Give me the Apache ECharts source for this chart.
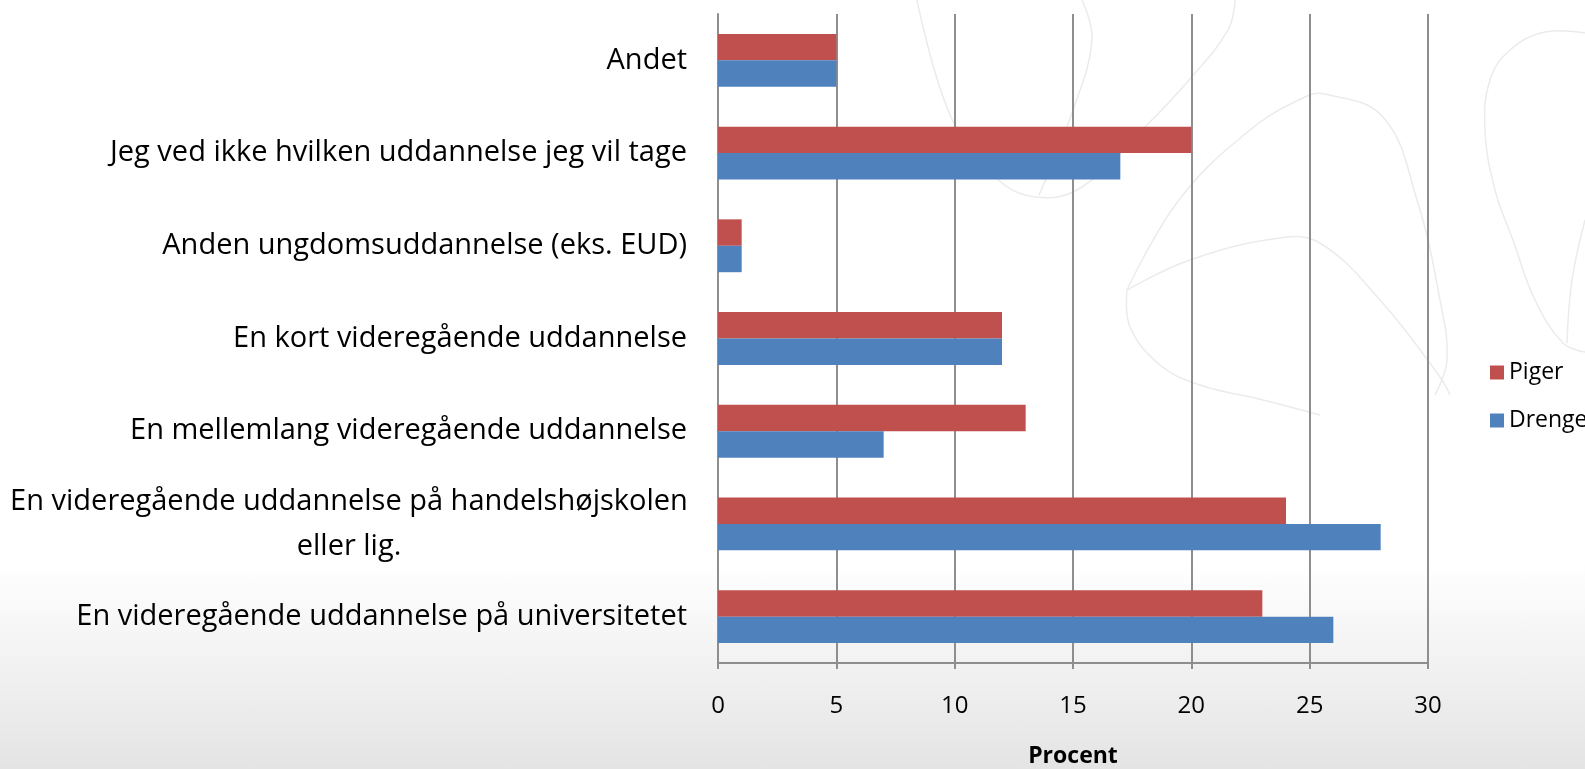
<!DOCTYPE html>
<html>
<head>
<meta charset="utf-8">
<script src="https://cdn.jsdelivr.net/npm/echarts@6/dist/echarts.min.js"></script>
<style>
  html, body { margin: 0; padding: 0; }
  body {
    width: 1585px; height: 769px;
    background: linear-gradient(to bottom, #ffffff 0%, #ffffff 73%, #e4e4e4 100%);
  }
  #chart { width: 1585px; height: 769px; }
</style>
</head>
<body>
<div id="chart"></div>
<script>
// categories from bottom to top (ECharts category y axis starts at the bottom)
const categories = [
  'En videregående uddannelse på universitetet',
  'En videregående uddannelse på handelshøjskolen\neller lig.',
  'En mellemlang videregående uddannelse',
  'En kort videregående uddannelse',
  'Anden ungdomsuddannelse (eks. EUD)',
  'Jeg ved ikke hvilken uddannelse jeg vil tage',
  'Andet'
];
const piger = [23, 24, 13, 12, 1, 20, 5];
const drenge = [26, 28, 7, 12, 1, 17, 5];
const xTicks = [0, 5, 10, 15, 20, 25, 30];

const lineCol = '#8e8e8e';
const deco = (pts) => ({
  type: 'polyline', silent: true, z: -10,
  shape: { points: pts, smooth: 0.4 },
  style: { stroke: '#ebebeb', lineWidth: 1.5, fill: null }
});

let myChart = echarts.init(document.getElementById('chart'));
let option = {
  backgroundColor: 'transparent',
  animation: false,
  graphic: [
    deco([[917, 0], [951, 117], [995, 177], [1036, 197], [1082, 187], [1145, 127], [1189, 80], [1228, 30], [1235, 0]]),
    deco([[1082, 0], [1092, 40], [1073, 110], [1039, 195]]),
    deco([[1127, 290], [1179, 200], [1250, 130], [1305, 97], [1325, 94], [1383, 117], [1417, 200], [1440, 300], [1447, 360], [1435, 395]]),
    deco([[1127, 290], [1190, 260], [1280, 238], [1320, 243], [1380, 300], [1440, 377], [1450, 395]]),
    deco([[1127, 290], [1130, 327], [1160, 365], [1200, 385], [1263, 400], [1320, 415]]),
    deco([[1585, 33], [1545, 32], [1510, 50], [1490, 80], [1485, 130], [1495, 190], [1513, 240], [1535, 300], [1563, 343], [1585, 352]]),
    deco([[1567, 343], [1572, 280], [1585, 220]])
  ],
  grid: { left: 718, right: 157, top: 14, bottom: 106, containLabel: false, outerBoundsMode: 'none' },
  legend: {
    data: ['Piger', 'Drenge'],
    orient: 'vertical',
    left: 1485, top: 356,
    itemWidth: 14, itemHeight: 14, itemGap: 25,
    icon: 'rect',
    textStyle: { fontFamily: 'Open Sans', fontSize: 23, color: '#000' }
  },
  xAxis: {
    type: 'value',
    min: 0, max: 30, interval: 5,
    name: 'Procent',
    nameLocation: 'middle',
    nameGap: 82,
    nameTextStyle: { fontFamily: 'Open Sans', fontSize: 23, fontWeight: 'bold', color: '#000' },
    axisLine: { show: true, lineStyle: { color: lineCol, width: 2 } },
    axisTick: { show: true, length: 6, lineStyle: { color: lineCol, width: 2 } },
    axisLabel: {
      fontFamily: 'Open Sans', fontSize: 24, color: '#000', margin: 31,
      formatter: (v) => xTicks.indexOf(v) >= 0 ? String(v) : ''
    },
    splitLine: { show: true, lineStyle: { color: lineCol, width: 2 } }
  },
  yAxis: {
    type: 'category',
    data: categories,
    axisLine: { show: true, lineStyle: { color: lineCol, width: 2 } },
    axisTick: { show: false },
    axisLabel: {
      margin: 31,
      fontFamily: 'Open Sans', fontSize: 29, color: '#000',
      lineHeight: 45,
      formatter: (v) => v.indexOf('\n') >= 0
        ? v.split('\n').map(s => '{c|' + s + '}').join('\n')
        : v,
      rich: {
        c: { width: 676, align: 'center', fontFamily: 'Open Sans', fontSize: 29, color: '#000', lineHeight: 45 }
      }
    }
  },
  series: [
    {
      name: 'Piger',
      type: 'bar',
      data: piger,
      barGap: '0%',
      barCategoryGap: '43%',
      itemStyle: { color: '#C0504D' }
    },
    {
      name: 'Drenge',
      type: 'bar',
      data: drenge,
      barGap: '0%',
      barCategoryGap: '43%',
      itemStyle: { color: '#4F81BD' }
    }
  ]
};

option && myChart.setOption(option);
</script>
</body>
</html>
